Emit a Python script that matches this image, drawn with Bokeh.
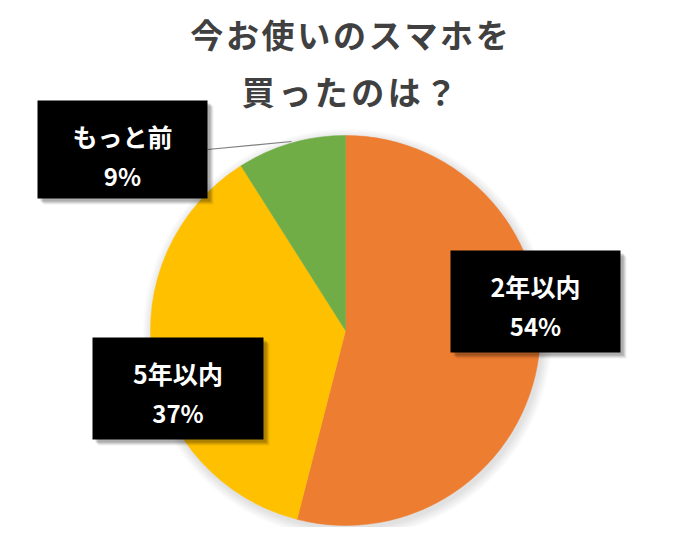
import numpy as np
from bokeh.plotting import figure
from bokeh.models import Range1d
from bokeh.core.properties import value
from bokeh.embed import file_html
from bokeh.resources import INLINE

# ---- data ----
title_lines = ["今お使いのスマホを", "買ったのは？"]
categories = ["2年以内", "5年以内", "もっと前"]
shares = [54, 37, 9]
colors = ["#ED7D31", "#FFC000", "#70AD47"]

W, H = 667, 527
FONT = value("Noto Sans CJK JP")


def X(sx):
    return sx


def Y(sy):
    return H - sy


p = figure(width=W, height=H, output_backend="svg", toolbar_location=None,
           x_range=Range1d(0, W), y_range=Range1d(0, H), min_border=0)
p.axis.visible = False
p.grid.visible = False
p.outline_line_color = None
p.background_fill_color = "white"
p.border_fill_color = "white"

cx, cy, r = X(345), Y(330), 195

# soft shadow around pie
for i in range(10, 0, -1):
    p.circle(x=cx + 2, y=cy - 3, radius=r + i, radius_units="screen",
             fill_color="#000000", fill_alpha=0.012, line_color=None)

# wedges: start at 12 o'clock, clockwise
fr = np.array(shares, dtype=float) / sum(shares)
cum = np.concatenate([[0], np.cumsum(fr)])
starts = np.pi / 2 - 2 * np.pi * cum[:-1]
ends = np.pi / 2 - 2 * np.pi * cum[1:]
p.wedge(x=[cx] * 3, y=[cy] * 3, radius=r, radius_units="screen",
        start_angle=list(starts), end_angle=list(ends), direction="clock",
        fill_color=colors, line_color=colors, line_width=0.5)

# leader line for small slice
p.line(x=[X(207), X(291)], y=[Y(149), Y(141)], line_color="#7f7f7f", line_width=1.2)

# label boxes (left, top, right, bottom in screen px)
boxes = [(450, 250, 620, 352), (92, 337, 263, 439), (37, 100, 207, 198)]
for (l, t, rr, b), cat, s in zip(boxes, categories, shares):
    for k, a in [(6, 0.06), (5, 0.08), (4, 0.1), (3, 0.12)]:
        p.quad(left=X(l) + k, right=X(rr) + k, top=Y(t) - k, bottom=Y(b) - k,
               fill_color="#000000", fill_alpha=a, line_color=None)
    p.quad(left=X(l), right=X(rr), top=Y(t), bottom=Y(b),
           fill_color="black", line_color=None)
    xc = X((l + rr) / 2)
    p.text(x=[xc], y=[Y(t + 35)], text=[cat], text_font=FONT, text_font_style="bold",
           text_font_size="25px", text_color="white", text_align="center",
           text_baseline="middle")
    p.text(x=[xc], y=[Y(t + 75)], text=[f"{s}%"], text_font=FONT, text_font_style="bold",
           text_font_size="24px", text_color="white", text_align="center",
           text_baseline="middle")

# title, characters spaced out
for line, sy, pitch, mid in zip(title_lines, [33, 90], [35.7, 36.5], [349, 349]):
    n = len(line)
    xs = [X(mid) + (i - (n - 1) / 2) * pitch for i in range(n)]
    p.text(x=xs, y=[Y(sy)] * n, text=list(line), text_font=FONT, text_font_style="bold",
           text_font_size="33px", text_color="#404040", text_align="center",
           text_baseline="middle")

open("out.html", "w").write(file_html(p, INLINE))
